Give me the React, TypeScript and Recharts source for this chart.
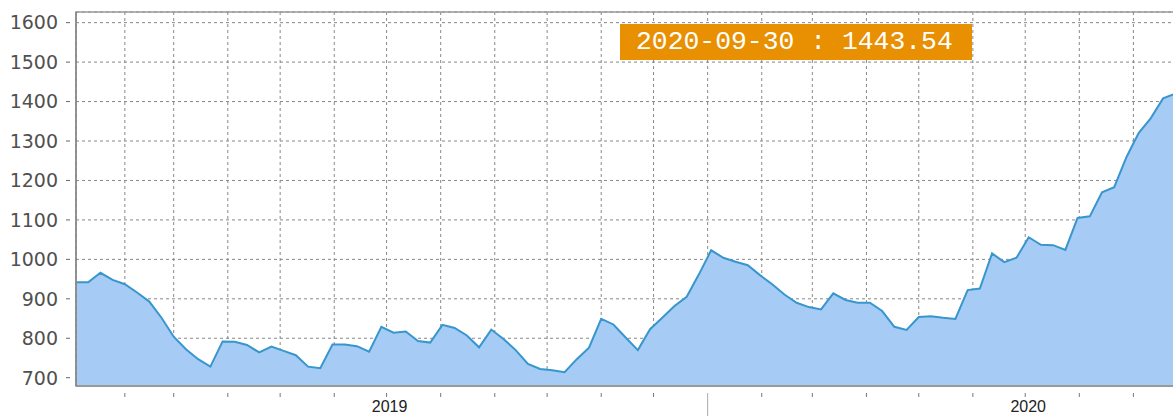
import React from "react";
import { AreaChart, Area, XAxis, YAxis, CartesianGrid, ReferenceArea } from "recharts";

// weekly closes (Fridays), last point is the month-end print
const FIRST_WEEK = "2019-01-04";
const LAST_DAY = "2020-09-30";
const PRICES = [
  942, 942, 966, 948, 937, 916, 893, 852, 804, 772, 747, 728, 792, 791, 783, 764,
  779, 768, 757, 728, 724, 784, 784, 780, 766, 829, 814, 817, 793, 789, 834, 826,
  807, 777, 822, 798, 770, 735, 722, 719, 714, 747, 776, 849, 835, 802, 770, 823,
  852, 882, 905, 962, 1023, 1004, 994, 985, 960, 937, 911, 890, 879, 873, 914, 897,
  890, 890, 869, 829, 821, 854, 856, 852, 849, 922, 926, 1015, 993, 1004, 1056, 1037,
  1036, 1024, 1105, 1109, 1170, 1183, 1259, 1320, 1358, 1408, 1420, 1443.54,
];
const Y_TICKS = [700, 800, 900, 1000, 1100, 1200, 1300, 1400, 1500, 1600];
const Y_DOMAIN: [number, number] = [679, 1627];

const DAY = 86400000;
const t0 = Date.parse(FIRST_WEEK);
const tEnd = Date.parse(LAST_DAY);
const data = PRICES.map((v, i) => ({
  t: i === PRICES.length - 1 ? tEnd : t0 + i * 7 * DAY,
  v,
}));

const monthTicks: number[] = [];
for (let y = 2019; y <= 2020; y++) {
  for (let m = 0; m < 12; m++) {
    const t = Date.UTC(y, m, 1);
    if (t > t0 && t < tEnd) monthTicks.push(t);
  }
}

function MonthTick({ x, y, payload }: any) {
  const d = new Date(payload.value);
  const m = d.getUTCMonth();
  return (
    <g>
      <line x1={x} x2={x} y1={y + 7} y2={m === 0 ? y + 32 : y + 11} stroke={m === 0 ? "#aaa" : "#777"} />
      {m === 6 && (
        <text x={x + 3} y={y + 26} textAnchor="middle" fontSize={16} fill="#222"
          fontFamily="'Liberation Sans', Arial, sans-serif">
          {d.getUTCFullYear()}
        </text>
      )}
    </g>
  );
}

function ValueTick({ x, y, payload }: any) {
  return (
    <g>
      <line x1={x - 10} x2={x - 6} y1={y} y2={y} stroke="#666" />
      <text x={x - 18} y={y} dy="0.36em" textAnchor="end" fontSize={19} fill="#505050"
        fontFamily="'DejaVu Sans', sans-serif">
        {payload.value}
      </text>
    </g>
  );
}

export default function App() {
  const last = data[data.length - 1];
  const label = `${LAST_DAY} : ${last.v.toFixed(2)}`;
  return (
    <div style={{ position: "absolute", left: 0, top: 0, width: 1190, height: 416, background: "#fff" }}>
      <AreaChart width={1190} height={416} data={data} margin={{ top: 12, right: 6, left: 0, bottom: 0 }}>
        <CartesianGrid strokeDasharray="3 3" stroke="#888" />
        <XAxis dataKey="t" type="number" domain={[t0, tEnd]} ticks={monthTicks} interval={0}
          height={30} tickSize={0} tickMargin={0} tickLine={false}
          axisLine={{ stroke: "#999", strokeWidth: 2 }} tick={MonthTick} allowDataOverflow />
        <YAxis type="number" domain={Y_DOMAIN} ticks={Y_TICKS} width={76} interval={0}
          tickSize={0} tickMargin={0} tickLine={false}
          axisLine={{ stroke: "#777" }} tick={ValueTick} allowDataOverflow />
        <Area type="linear" dataKey="v" stroke="#3896cd" strokeWidth={2} fill="#a6cbf5"
          fillOpacity={1} dot={false} activeDot={false} isAnimationActive={false} />
        <ReferenceArea x1={t0} x2={tEnd} y1={Y_DOMAIN[0]} y2={Y_DOMAIN[1]} fill="none"
          stroke="#999" strokeWidth={1.5} />
      </AreaChart>
      <div style={{
        position: "absolute", left: 620, top: 24, width: 352, height: 36, boxSizing: "border-box",
        paddingLeft: 16, background: "#e98f02", color: "#fff", whiteSpace: "pre",
        font: "26.4px 'Liberation Mono', monospace", lineHeight: "36px",
      }}>
        {label}
      </div>
    </div>
  );
}
